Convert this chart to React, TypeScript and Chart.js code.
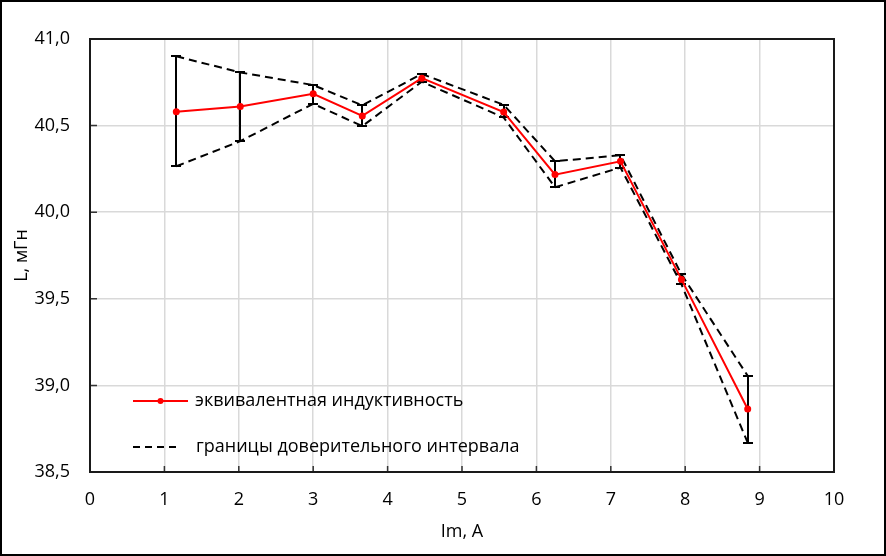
import React, { useEffect, useRef } from "react";
import { Chart, registerables } from "chart.js";

Chart.register(...registerables);

// Data
const currents = [1.16, 2.02, 3.0, 3.66, 4.46, 5.56, 6.25, 7.13, 7.95, 8.84];
const inductance = [40.58, 40.61, 40.684, 40.556, 40.774, 40.578, 40.217, 40.294, 39.612, 38.864];
const upperBound = [40.9, 40.807, 40.734, 40.617, 40.798, 40.62, 40.294, 40.329, 39.641, 39.055];
const lowerBound = [40.265, 40.41, 40.626, 40.497, 40.753, 40.547, 40.144, 40.258, 39.583, 38.669];

const xTicks = [0, 1, 2, 3, 4, 5, 6, 7, 8, 9, 10];
const yTicks = [38.5, 39.0, 39.5, 40.0, 40.5, 41.0];

const seriesLabel = "эквивалентная индуктивность";
const boundsLabel = "границы доверительного интервала";
const xTitle = "Im, A";
const yTitle = "L, мГн";

const FONT = "'Open Sans', 'Noto Sans', sans-serif";
const FONT_SIZE = 18;

const fmt = (v: number) => v.toFixed(1).replace(".", ",");

const overlayPlugin = {
  id: "overlay",
  beforeDatasetDraw(chart: any, args: any) {
    if (args.index !== 0) return;
    const ctx = chart.ctx;
    const xs = chart.scales.x;
    const ys = chart.scales.y;
    ctx.save();
    ctx.strokeStyle = "#000";
    ctx.lineWidth = 2;
    for (let i = 0; i < currents.length; i++) {
      const px = Math.round(xs.getPixelForValue(currents[i]));
      const pu = Math.round(ys.getPixelForValue(upperBound[i]));
      const pl = Math.round(ys.getPixelForValue(lowerBound[i]));
      ctx.beginPath();
      ctx.moveTo(px, pu);
      ctx.lineTo(px, pl);
      ctx.moveTo(px - 5, pu);
      ctx.lineTo(px + 5, pu);
      ctx.moveTo(px - 5, pl);
      ctx.lineTo(px + 5, pl);
      ctx.stroke();
    }
    ctx.restore();
  },
  afterDraw(chart: any) {
    const ctx = chart.ctx;
    const { left, right, top, bottom } = chart.chartArea;
    const xs = chart.scales.x;
    const ys = chart.scales.y;
    ctx.save();
    // inward tick marks
    ctx.strokeStyle = "#333";
    ctx.lineWidth = 1.5;
    ctx.beginPath();
    for (const v of xTicks) {
      const px = xs.getPixelForValue(v);
      ctx.moveTo(px, bottom);
      ctx.lineTo(px, bottom - 6);
    }
    for (const v of yTicks) {
      const py = ys.getPixelForValue(v);
      ctx.moveTo(left, py);
      ctx.lineTo(left + 7, py);
    }
    ctx.stroke();
    // plot area frame
    ctx.strokeStyle = "#1a1a1a";
    ctx.lineWidth = 2;
    ctx.strokeRect(left, top, right - left, bottom - top);

    // legend inside plot area
    ctx.font = `${FONT_SIZE}px ${FONT}`;
    ctx.textBaseline = "middle";
    ctx.textAlign = "left";
    const lx0 = 133;
    const lx1 = 188;
    const ly1 = 401;
    const ly2 = 447;
    ctx.strokeStyle = "#ff0000";
    ctx.lineWidth = 2;
    ctx.setLineDash([]);
    ctx.beginPath();
    ctx.moveTo(lx0, ly1);
    ctx.lineTo(lx1, ly1);
    ctx.stroke();
    ctx.fillStyle = "#ff0000";
    ctx.beginPath();
    ctx.arc((lx0 + lx1) / 2, ly1, 3, 0, Math.PI * 2);
    ctx.fill();
    ctx.fillStyle = "#000";
    ctx.fillText(seriesLabel, 195, ly1);

    ctx.strokeStyle = "#000";
    ctx.lineWidth = 2;
    ctx.setLineDash([7, 5]);
    ctx.beginPath();
    ctx.moveTo(lx0, ly2);
    ctx.lineTo(181, ly2);
    ctx.stroke();
    ctx.setLineDash([]);
    ctx.fillText(boundsLabel, 196, ly2);

    // outer frame
    ctx.strokeStyle = "#000";
    ctx.lineWidth = 2;
    ctx.strokeRect(1, 1, chart.width - 2, chart.height - 2);
    ctx.restore();
  },
};

export default function App() {
  const canvasRef = useRef<HTMLCanvasElement | null>(null);

  useEffect(() => {
    document.body.style.margin = "0";
    const canvas = canvasRef.current;
    if (!canvas) return;
    const meanPts = currents.map((x, i) => ({ x, y: inductance[i] }));
    const upPts = currents.map((x, i) => ({ x, y: upperBound[i] }));
    const lowPts = currents.map((x, i) => ({ x, y: lowerBound[i] }));

    const chart = new Chart(canvas, {
      type: "line",
      data: {
        datasets: [
          {
            label: seriesLabel,
            data: meanPts,
            borderColor: "#ff0000",
            backgroundColor: "#ff0000",
            borderWidth: 2,
            pointRadius: 3.5,
            pointBorderWidth: 0,
            pointBackgroundColor: "#ff0000",
            tension: 0,
          },
          {
            label: boundsLabel,
            data: upPts,
            borderColor: "#000",
            borderWidth: 2,
            borderDash: [8, 5],
            pointRadius: 0,
            tension: 0,
          },
          {
            label: boundsLabel + " ",
            data: lowPts,
            borderColor: "#000",
            borderWidth: 2,
            borderDash: [8, 5],
            pointRadius: 0,
            tension: 0,
          },
        ],
      },
      options: {
        animation: false,
        responsive: true,
        maintainAspectRatio: false,
        layout: { padding: { left: 0, top: 39, right: 52, bottom: 0 } },
        plugins: {
          legend: { display: false },
          tooltip: { enabled: false },
        },
        scales: {
          x: {
            type: "linear",
            min: 0,
            max: 10,
            afterFit: (s: any) => {
              s.height = 84;
            },
            afterBuildTicks: (s: any) => {
              s.ticks = xTicks.map((v) => ({ value: v }));
            },
            ticks: {
              color: "#000",
              font: { family: FONT, size: FONT_SIZE },
              padding: 17,
              maxRotation: 0,
              callback: (v: any) => String(v),
            },
            grid: { color: "#d9d9d9", lineWidth: 1.5, drawTicks: false },
            border: { display: false },
            title: {
              display: true,
              text: xTitle,
              color: "#000",
              font: { family: FONT, size: FONT_SIZE },
              padding: { top: 4, bottom: 13 },
            },
          },
          y: {
            type: "linear",
            min: 38.5,
            max: 41,
            afterFit: (s: any) => {
              s.width = 90;
            },
            afterBuildTicks: (s: any) => {
              s.ticks = yTicks.map((v) => ({ value: v }));
            },
            ticks: {
              color: "#000",
              font: { family: FONT, size: FONT_SIZE },
              padding: 20,
              callback: (v: any) => fmt(Number(v)),
            },
            grid: { color: "#d9d9d9", lineWidth: 1.5, drawTicks: false },
            border: { display: false },
            title: {
              display: true,
              text: yTitle,
              color: "#000",
              font: { family: FONT, size: FONT_SIZE },
              padding: { top: 11, bottom: 0 },
            },
          },
        },
      },
      plugins: [overlayPlugin],
    });
    return () => chart.destroy();
  }, []);

  return (
    <div style={{ width: 886, height: 556, position: "relative", background: "#fff" }}>
      <canvas ref={canvasRef} />
    </div>
  );
}
